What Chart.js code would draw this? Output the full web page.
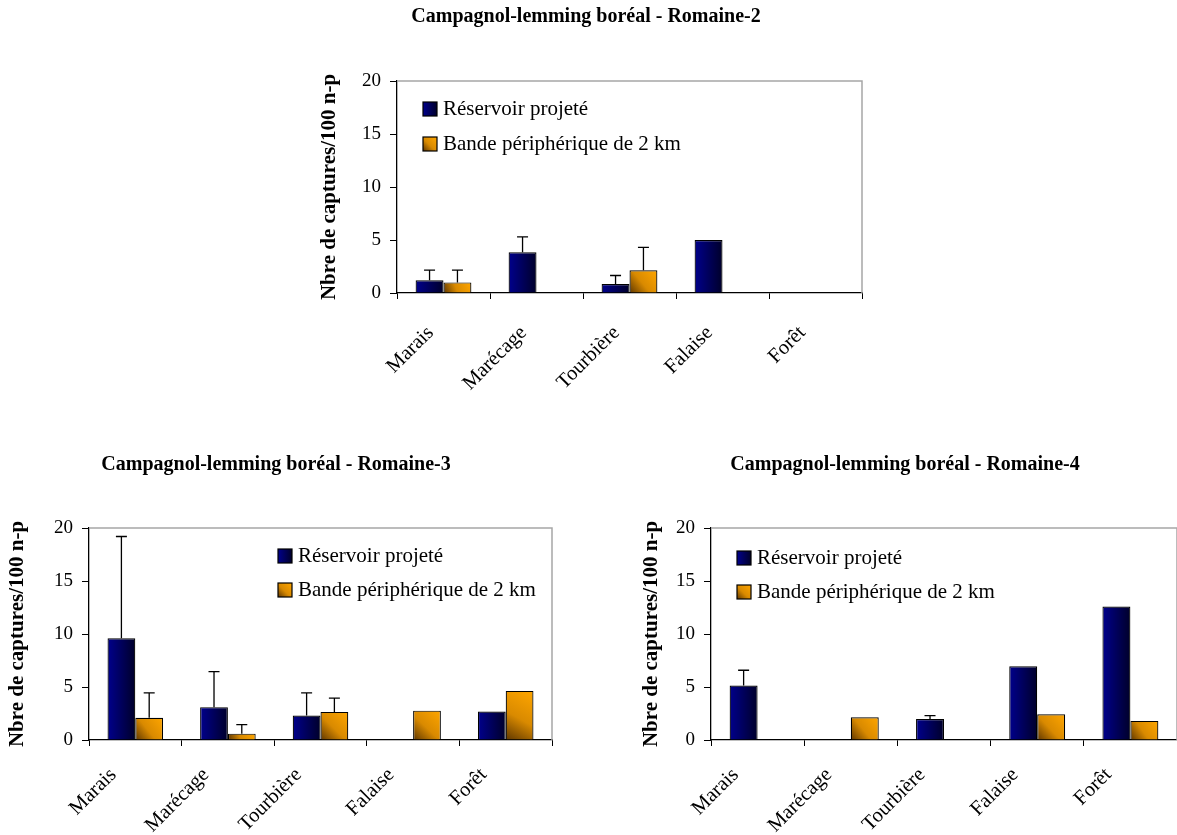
<!DOCTYPE html>
<html>
<head>
<meta charset="utf-8">
<script src="https://cdn.jsdelivr.net/npm/chart.js@4/dist/chart.umd.min.js"></script>
<style>
    body { margin: 0; background: #fff; width: 1177px; height: 835px; overflow: hidden; position: relative; }
    .box { position: absolute; }
</style>
</head>
<body>
<div class="box" id="box-r2" style="left:310px; top:0px; width:560px; height:400px"><canvas id="chart-r2"></canvas></div>
<div class="box" id="box-r3" style="left:0px; top:440px; width:560px; height:395px"><canvas id="chart-r3"></canvas></div>
<div class="box" id="box-r4" style="left:633px; top:440px; width:544px; height:395px"><canvas id="chart-r4"></canvas></div>
<script>
// Chart values
const categories = ['Marais', 'Marécage', 'Tourbière', 'Falaise', 'Forêt'];
const seriesNames = ['Réservoir projeté', 'Bande périphérique de 2 km'];
const yTicks = [0, 5, 10, 15, 20];
const yTitle = 'Nbre de captures/100 n-p';

// Romaine-2
const r2Reservoir = [1.2, 3.85, 0.85, 5.0, 0];
const r2Bande = [1.0, 0, 2.15, 0, 0];
const r2ReservoirErr = [0.95, 1.45, 0.8, 0, 0];
const r2BandeErr = [1.15, 0, 2.15, 0, 0];

// Romaine-3
const r3Reservoir = [9.6, 3.1, 2.3, 0, 2.68];
const r3Bande = [2.1, 0.6, 2.65, 2.77, 4.63];
const r3ReservoirErr = [9.6, 3.35, 2.15, 0, 0];
const r3BandeErr = [2.35, 0.85, 1.3, 0, 0];

// Romaine-4
const r4Reservoir = [5.13, 0, 1.98, 6.96, 12.6];
const r4Bande = [0, 2.14, 0, 2.43, 1.8];
const r4ReservoirErr = [1.45, 0, 0.32, 0, 0];
const r4BandeErr = [0, 0, 0, 0, 0];

const SERIF = '"Liberation Serif", "DejaVu Serif", serif';

// bar fills: navy fades to the right, orange brightens towards top-right
function fillFor(ctx, kind, x0, x1, yTop, yBase) {
    if (kind === 0) {
        const g = ctx.createLinearGradient(x0, 0, x1, 0);
        g.addColorStop(0, '#00008c');
        g.addColorStop(1, '#00002a');
        return g;
    }
    const g = ctx.createLinearGradient(x0, yBase, x1, yTop);
    g.addColorStop(0, '#5e3600');
    g.addColorStop(0.45, '#d98a00');
    g.addColorStop(1, '#ffa600');
    return g;
}

function barColor(c) {
    const chart = c.chart;
    const flat = c.datasetIndex === 0 ? '#000070' : '#f09600';
    if (c.type !== 'data' || !chart.scales || !chart.scales.x) return flat;
    const xs = chart.scales.x, ys = chart.scales.y;
    const center = xs.getPixelForValue(c.dataIndex);
    const half = (xs.width / categories.length) * 0.6 / 2;
    const x0 = c.datasetIndex === 0 ? center - half : center;
    const x1 = x0 + half;
    const yTop = ys.getPixelForValue(c.raw);
    const yBase = ys.getPixelForValue(0);
    if (![x0, x1, yTop, yBase].every(isFinite)) return flat;
    return fillFor(chart.ctx, c.datasetIndex, x0, x1, Math.min(yTop, yBase - 1), yBase);
}

// grey frame on top and right of the plot
const framePlugin = {
    id: 'frame',
    beforeDatasetsDraw(chart) {
        const { ctx, chartArea: a } = chart;
        ctx.save();
        ctx.strokeStyle = '#a6a6a6';
        ctx.lineWidth = 1.5;
        ctx.beginPath();
        ctx.moveTo(a.left, a.top);
        ctx.lineTo(a.right, a.top);
        ctx.lineTo(a.right, a.bottom);
        ctx.stroke();
        ctx.restore();
    }
};

// upper error bars with a cap
const errorPlugin = {
    id: 'errorBars',
    afterDatasetsDraw(chart) {
        const { ctx } = chart;
        const ys = chart.scales.y;
        ctx.save();
        ctx.strokeStyle = '#000';
        ctx.lineWidth = 1.3;
        chart.data.datasets.forEach((ds, di) => {
            const meta = chart.getDatasetMeta(di);
            meta.data.forEach((el, i) => {
                const err = ds.errors[i];
                if (!err) return;
                const top = ys.getPixelForValue(ds.data[i] + err);
                ctx.beginPath();
                ctx.moveTo(el.x, el.y);
                ctx.lineTo(el.x, top);
                ctx.moveTo(el.x - 5.5, top);
                ctx.lineTo(el.x + 5.5, top);
                ctx.stroke();
            });
        });
        ctx.restore();
    }
};

// legend drawn inside the plot area
const innerLegend = {
    id: 'innerLegend',
    afterDraw(chart, args, opts) {
        const { ctx, chartArea: a } = chart;
        ctx.save();
        ctx.font = '21px ' + SERIF;
        ctx.textBaseline = 'middle';
        ctx.fillStyle = '#000';
        chart.data.datasets.forEach((ds, i) => {
            const bx = a.left + opts.dx;
            const by = a.top + opts.dy + i * opts.gap;
            ctx.fillStyle = fillFor(ctx, i, bx, bx + 14, by, by + 14);
            ctx.fillRect(bx, by, 14, 14);
            ctx.strokeStyle = '#000';
            ctx.lineWidth = 1.2;
            ctx.strokeRect(bx, by, 14, 14);
            ctx.fillStyle = '#000';
            ctx.fillText(ds.label, bx + 20, by + 7);
        });
        ctx.restore();
    }
};

function makeChart(id, title, reservoir, bande, resErr, bandeErr, lay) {
    const ctx = document.getElementById(id).getContext('2d');
    return new Chart(ctx, {
        type: 'bar',
        data: {
            labels: categories,
            datasets: [
                { label: seriesNames[0], data: reservoir, errors: resErr,
                  backgroundColor: barColor, borderColor: '#000', borderWidth: 1.2,
                  categoryPercentage: 0.6, barPercentage: 1.0 },
                { label: seriesNames[1], data: bande, errors: bandeErr,
                  backgroundColor: barColor, borderColor: '#000', borderWidth: 1.2,
                  categoryPercentage: 0.6, barPercentage: 1.0 }
            ]
        },
        options: {
            responsive: true,
            maintainAspectRatio: false,
            animation: false,
            layout: { padding: { left: 0, right: lay.padRight, top: 0, bottom: 0 } },
            plugins: {
                legend: { display: false },
                tooltip: { enabled: false },
                title: {
                    display: true,
                    text: title,
                    color: '#000',
                    font: { family: SERIF, size: 20, weight: 'bold', lineHeight: 1.2 },
                    padding: { top: lay.titleTop, bottom: lay.titleBottom }
                },
                innerLegend: lay.legend
            },
            scales: {
                x: {
                    grid: { display: true, drawOnChartArea: false, color: '#000', tickLength: 6, offset: true },
                    border: { color: '#000', width: 1.3 },
                    ticks: {
                        color: '#000', font: { family: SERIF, size: 20.5 },
                        minRotation: 45, maxRotation: 45, padding: lay.xPad, labelOffset: lay.xOffset, autoSkip: false
                    },
                    afterFit: s => { s.height = lay.xHeight; }
                },
                y: {
                    min: 0, max: 20,
                    afterBuildTicks: s => { s.ticks = yTicks.map(v => ({ value: v })); },
                    grid: { display: true, drawOnChartArea: false, color: '#000', tickLength: 7 },
                    border: { color: '#000', width: 1.3 },
                    ticks: { color: '#000', font: { family: SERIF, size: 19 }, padding: 9 },
                    title: {
                        display: true, text: yTitle, color: '#000',
                        font: { family: SERIF, size: 21, weight: 'bold', lineHeight: 1.2 },
                        padding: { top: lay.yTitlePad, bottom: 0 }
                    },
                    afterFit: s => { s.width = lay.yWidth; }
                }
            }
        },
        plugins: [framePlugin, errorPlugin, innerLegend]
    });
}

makeChart('chart-r2', 'Campagnol-lemming boréal - Romaine-2', r2Reservoir, r2Bande, r2ReservoirErr, r2BandeErr, {
    padRight: 8, titleTop: 5, titleBottom: 52, xHeight: 107, yWidth: 87, yTitlePad: 7,
    xPad: 22, xOffset: -13, legend: { dx: 26, dy: 21, gap: 35 }
});
makeChart('chart-r3', 'Campagnol-lemming boréal - Romaine-3', r3Reservoir, r3Bande, r3ReservoirErr, r3BandeErr, {
    padRight: 8, titleTop: 13, titleBottom: 51, xHeight: 95, yWidth: 89, yTitlePad: 5,
    xPad: 17, xOffset: -22, legend: { dx: 189, dy: 21, gap: 34 }
});
makeChart('chart-r4', 'Campagnol-lemming boréal - Romaine-4', r4Reservoir, r4Bande, r4ReservoirErr, r4BandeErr, {
    padRight: 0, titleTop: 13, titleBottom: 51, xHeight: 95, yWidth: 78, yTitlePad: 6,
    xPad: 17, xOffset: -22, legend: { dx: 26, dy: 23, gap: 34 }
});
</script>
</body>
</html>
